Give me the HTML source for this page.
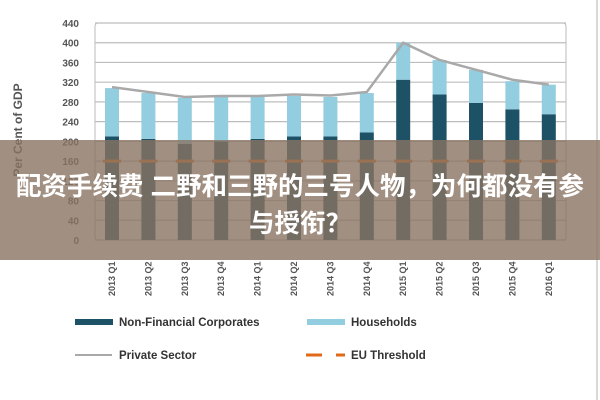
<!DOCTYPE html>
<html><head><meta charset="utf-8"><style>
body{margin:0;background:#fff;width:600px;height:400px;overflow:hidden;position:relative;font-family:"Liberation Sans","Noto Sans CJK SC",sans-serif}
svg{position:absolute;left:0;top:0}
.band{position:absolute;left:0;top:140px;width:600px;height:120px;background:rgba(137,115,97,0.8)}
.t{position:absolute;left:0;width:600px;text-align:center;color:#fff;font-weight:bold;font-size:25.5px;white-space:nowrap;font-family:"Liberation Sans","Noto Sans CJK SC",sans-serif}
</style></head><body>
<svg width="600" height="400">
<g id="g"></g>
</svg>
<div class="band"></div>
<div class="t" style="top:166px">配资手续费 二野和三野的三号人物，为何都没有参</div>
<div class="t" style="top:203px">与授衔？</div>
<script>
const categories=["2013 Q1","2013 Q2","2013 Q3","2013 Q4","2014 Q1","2014 Q2","2014 Q3","2014 Q4","2015 Q1","2015 Q2","2015 Q3","2015 Q4","2016 Q1"];
const nfc=[210,205,195,200,205,210,210,218,325,295,278,265,255];
const households=[98,93,93,90,85,82,80,80,75,70,67,57,60];
const privateSector=[310,300,290,292,292,295,293,300,400,365,345,325,315];
const euThreshold=[160,160,160,160,160,160,160,160,160,160,160,160,160];
const yTicks=[0,40,80,120,160,200,240,280,320,360,400,440];
const NS="http://www.w3.org/2000/svg";
const g=document.getElementById('g');
const x0=95,x1=566,yb=240,yt=23;
const y=v=>yb-(v/440)*(yb-yt);
const xc=i=>x0+17+i*36.4;
function el(t,a){const e=document.createElementNS(NS,t);for(const k in a)e.setAttribute(k,a[k]);g.appendChild(e);return e;}
const frame=el('rect',{x:x0,y:yt,width:x1-x0,height:yb-yt,rx:3,fill:'none',stroke:'#bbb','stroke-width':1});


yTicks.forEach(v=>{
 const l=el('line',{x1:x0,x2:x1,y1:y(v),y2:y(v),stroke:'#bdbdbd','stroke-width':1.2});
 
 
 const t=el('text',{x:x0-16,y:y(v)+4,'text-anchor':'end','font-size':10,fill:'#555','font-weight':'bold'});
 t.textContent=v;
 
 
});
const yt2=el('text',{x:22,y:130,'text-anchor':'middle','font-size':12,'font-weight':'bold',fill:'#555',transform:'rotate(-90 22 130)'});
yt2.textContent='Per Cent of GDP';


categories.forEach((c,i)=>{
 const cx=xc(i),w=14;
 const b=el('rect',{x:cx-w/2,y:y(nfc[i]),width:w,height:yb-y(nfc[i]),fill:'#1d5266'});
 
 
 const h=el('rect',{x:cx-w/2,y:y(nfc[i]+households[i]),width:w,height:y(nfc[i])-y(nfc[i]+households[i]),fill:'#93cde0'});
 
 
 const d=el('line',{x1:cx-9,x2:cx+9,y1:y(euThreshold[i]),y2:y(euThreshold[i]),stroke:'#e06a1a','stroke-width':3});
 
 
 const t=el('text',{x:0,y:0,'font-size':9,fill:'#555','font-weight':'bold',transform:`translate(${cx+3},${yb+56}) rotate(-90)`});
 t.textContent=c;
 
 
});
const pl=el('polyline',{points:privateSector.map((v,i)=>xc(i)+','+y(v)).join(' '),fill:'none',stroke:'#a9a9a9','stroke-width':2.5});


const vb=el('line',{x1:597,x2:597,y1:0,y2:400,stroke:'#ccc','stroke-width':1.5});


function leg(name,draw,label,lx,ly){
 draw(lx,ly);
 const t=el('text',{x:lx+44,y:ly+4,'font-size':11.5,'font-weight':'bold',fill:'#333'});
 t.textContent=label;
 
 
}
leg('legend-nfc',(lx,ly)=>{const r=el('rect',{x:lx,y:ly-3,width:38,height:6,fill:'#1d5266'});},'Non-Financial Corporates',75,322);
leg('legend-households',(lx,ly)=>{const r=el('rect',{x:lx,y:ly-3,width:38,height:6,fill:'#93cde0'});},'Households',307,322);
leg('legend-private-sector',(lx,ly)=>{const r=el('line',{x1:lx,x2:lx+37,y1:ly,y2:ly,stroke:'#a9a9a9','stroke-width':2});},'Private Sector',75,355);
leg('legend-eu-threshold',(lx,ly)=>{const r=el('line',{x1:lx-1,x2:lx+38,y1:ly,y2:ly,stroke:'#e06a1a','stroke-width':3,'stroke-dasharray':'16 14'});},'EU Threshold',307,355);
</script>
</body></html>
